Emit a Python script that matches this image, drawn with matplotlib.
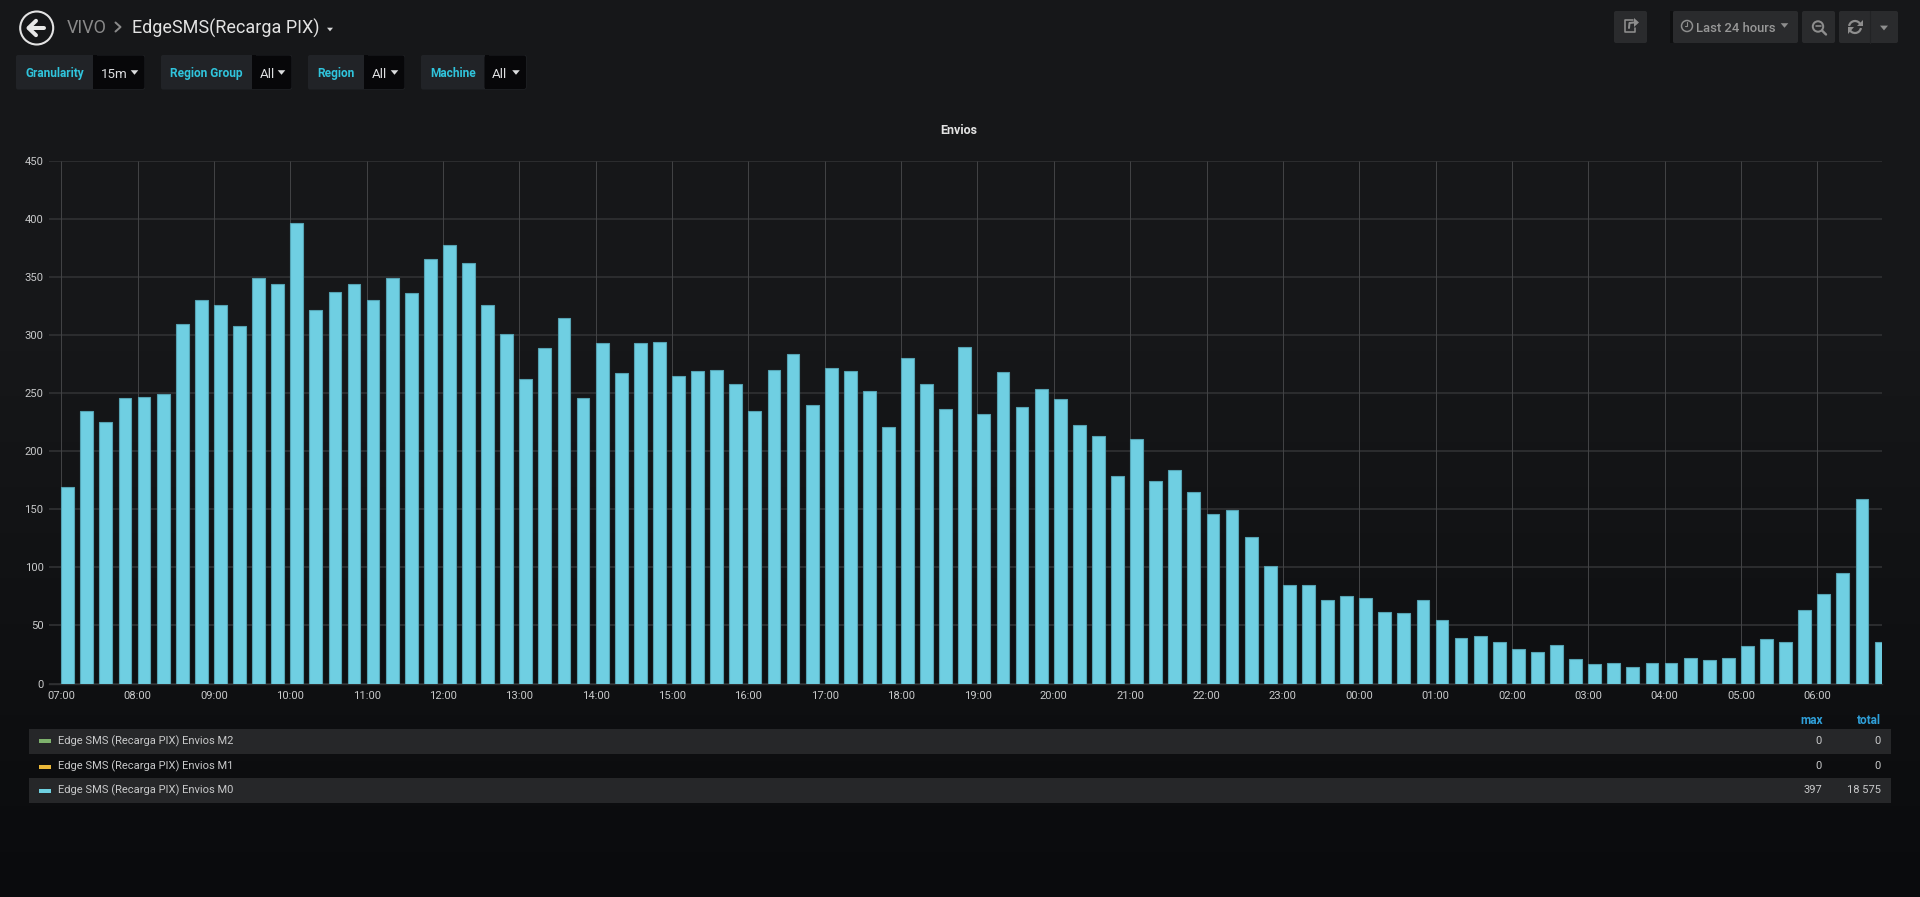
import numpy as np
import matplotlib
matplotlib.use("Agg")
import matplotlib.pyplot as plt
from matplotlib.patches import Circle, FancyBboxPatch, Polygon, Rectangle, Arc

plt.rcParams['font.family'] = ['Roboto', 'DejaVu Sans']

# 15 minute buckets, starting at 07:00
envios_m0 = [169, 235, 225, 246, 247, 249, 310, 330, 326, 308, 349, 344,
             397, 322, 337, 344, 330, 349, 336, 366, 378, 362, 326, 301,
             262, 289, 315, 246, 293, 267, 293, 294, 265, 269, 270, 258,
             235, 270, 284, 240, 272, 269, 252, 221, 280, 258, 236, 290,
             232, 268, 238, 254, 245, 223, 213, 179, 211, 174, 184, 165,
             146, 149, 126, 101, 85, 85, 72, 75, 74, 62, 61, 72,
             55, 39, 41, 36, 30, 27, 33, 21, 17, 18, 14, 18,
             18, 22, 20, 22, 32, 38, 36, 63, 77, 95, 159, 36]
hour_labels = ['07:00', '08:00', '09:00', '10:00', '11:00', '12:00', '13:00', '14:00',
               '15:00', '16:00', '17:00', '18:00', '19:00', '20:00', '21:00', '22:00',
               '23:00', '00:00', '01:00', '02:00', '03:00', '04:00', '05:00', '06:00']
y_ticks = [0, 50, 100, 150, 200, 250, 300, 350, 400, 450]

legend_names = ['Edge SMS (Recarga PIX) Envios M2', 'Edge SMS (Recarga PIX) Envios M1',
                'Edge SMS (Recarga PIX) Envios M0']
legend_colors = ['#7eb26d', '#eab839', '#6ed0e0']
legend_max = ['0', '0', '397']
legend_total = ['0', '0', '18 575']

# (label, value, label left, split, right)
filters = [('Granularity', '15m', 16, 93, 145),
           ('Region Group', 'All', 161, 252, 292),
           ('Region', 'All', 308, 364, 405),
           ('Machine', 'All', 421, 484.5, 526.5)]

W, H = 1920, 897
PX = 0.72  # one pixel in points at dpi 100

fig = plt.figure(figsize=(W / 100, H / 100), dpi=100)

# page layer, in pixel coordinates
page = fig.add_axes([0, 0, 1, 1], zorder=0)
page.set_xlim(0, W)
page.set_ylim(H, 0)
page.axis('off')

shade = np.clip((np.arange(H) - 350) / (H - 350), 0, 1)
top, bottom = np.array([0x16, 0x17, 0x19]), np.array([0x0a, 0x0b, 0x0d])
background = (top[None, :] + (bottom - top)[None, :] * shade[:, None]) / 255
page.imshow(background[:, None, :], extent=[0, W, H, 0], aspect='auto', zorder=0)
page.set_xlim(0, W)
page.set_ylim(H, 0)


def box(x0, y0, x1, y1, color, r=2):
    page.add_patch(FancyBboxPatch((x0 + r, y0 + r), x1 - x0 - 2 * r, y1 - y0 - 2 * r,
                                  boxstyle="round,pad=%d,rounding_size=%d" % (r, r),
                                  fc=color, ec='none', zorder=2))


def caret(x, y, color, size=3.5):
    page.add_patch(Polygon([(x - size, y - size * 0.6), (x + size, y - size * 0.6), (x, y + size * 0.6)],
                           closed=True, fc=color, ec='none', zorder=4))


def line(xs, ys, color, px=1.5):
    page.plot(xs, ys, color=color, lw=px * PX, solid_capstyle='round', zorder=4)


# back button and breadcrumb
page.add_patch(Circle((36.7, 28), 16.5, fc='none', ec='#e3e3e3', lw=1.6 * PX * 1.3, zorder=4))
line([28.5, 43.5], [28, 28], '#e8e8e8', 4)
line([36, 28.5, 36], [20.8, 28, 35.2], '#e8e8e8', 4)
page.text(67, 28, 'VIVO', color='#8a8a8a', fontsize=12.9, va='center', ha='left')
line([115.5, 120.5, 115.5], [22.5, 27, 31.5], '#8a8a8a', 2)
page.text(132, 28, 'EdgeSMS(Recarga PIX)', color='#e3e3e3', fontsize=12.95, va='center', ha='left')
caret(330, 29.5, '#d8d9da', 3)

# template variable pills
for label, value, x0, split, x1 in filters:
    box(x0, 55, x1, 89.5, '#212327')
    box(split, 55.5, x1 - 0.5, 89, '#070709')
    page.add_patch(Rectangle((split, 55.5), 4, 33.5, fc='#070709', ec='none', zorder=3))
    page.text((x0 + split) / 2, 73.5, label, color='#30c4dc', fontsize=8.6, weight='bold',
              va='center', ha='center', zorder=5)
    page.text(split + 7.5, 74, value, color='#dcdddf', fontsize=9.6, va='center', ha='left', zorder=5)
    caret(x1 - 10.5, 72.5, '#dcdddf', 3.8)

# top right toolbar
for x0, x1 in [(1614, 1647), (1673, 1798), (1802, 1835), (1839, 1898)]:
    box(x0, 11, x1, 43, '#2a2b2d')
page.add_patch(Rectangle((1670, 11), 3, 32, fc='#0e0f10', ec='none', zorder=1))
page.plot([1870, 1870], [11, 43], color='#222325', lw=0.8, zorder=3)
icon = '#8e8e8e'
# share
line([1633, 1624.5, 1624.5, 1635, 1635], [20.5, 20.5, 32, 32, 28], icon, 1.6)
line([1629, 1629.5, 1634], [28, 23, 22.5], icon, 2)
page.add_patch(Polygon([(1634, 18), (1639, 22.5), (1634, 27)], closed=True, fc=icon, ec='none', zorder=4))
# clock
page.add_patch(Circle((1687, 26), 5.5, fc='none', ec=icon, lw=1.5 * PX, zorder=4))
line([1687, 1687, 1684.5], [22.5, 26.5, 26.5], icon, 1.1)
page.text(1696.5, 28, 'Last 24 hours', color='#989898', fontsize=9.4, weight='medium', va='center', ha='left', zorder=5)
caret(1784.5, 25.5, icon, 3.8)
# zoom out
page.add_patch(Circle((1818, 26.5), 5.2, fc='none', ec=icon, lw=2 * PX, zorder=4))
line([1815.5, 1820.5], [26.5, 26.5], icon, 1.6)
line([1822, 1826], [30.5, 34.5], icon, 2.4)
# refresh
page.add_patch(Arc((1855, 27), 12, 12, theta1=190, theta2=340, ec=icon, lw=2.2 * PX, zorder=4))
page.add_patch(Arc((1855, 27), 12, 12, theta1=10, theta2=160, ec=icon, lw=2.2 * PX, zorder=4))
page.add_patch(Polygon([(1862.5, 20), (1862.5, 26.5), (1856.5, 26.5)], closed=True, fc=icon, ec='none', zorder=4))
page.add_patch(Polygon([(1847.5, 34), (1847.5, 27.5), (1853.5, 27.5)], closed=True, fc=icon, ec='none', zorder=4))
caret(1884, 28, icon, 4)

page.text(959, 130, 'Envios', color='#e3e3e3', fontsize=9, weight='bold', va='center', ha='center', zorder=5)

# legend table
page.text(1822.5, 720, 'max', color='#2f9fd8', fontsize=8.6, weight='bold', va='center', ha='right', zorder=5)
page.text(1881, 720, 'total', color='#2f9fd8', fontsize=8.6, weight='bold', va='center', ha='right', zorder=5)
row_tops = [729, 754, 778]
row_text = [741, 766, 790]
row_mark = [741.5, 767, 791]
for i in range(3):
    if i != 1:
        page.add_patch(Rectangle((29, row_tops[i]), 1862, 25, fc='#262729', ec='none', zorder=2))
    page.add_patch(Rectangle((39, row_mark[i] - 2), 12, 4, fc=legend_colors[i], ec='none', zorder=3))
    page.text(58, row_text[i], legend_names[i], color='#c8c9ca', fontsize=8.0, va='center', ha='left', zorder=5)
    page.text(1822, row_text[i], legend_max[i], color='#c8c9ca', fontsize=8.0, va='center', ha='right', zorder=5)
    page.text(1881, row_text[i], legend_total[i], color='#c8c9ca', fontsize=8.0, va='center', ha='right', zorder=5)

# the chart itself
plot_left, plot_right, plot_top, plot_bottom = 49, 1882, 161, 683.5
slot = 76.35 / 4  # pixels per bucket

ax = fig.add_axes([plot_left / W, 1 - plot_bottom / H, (plot_right - plot_left) / W, (plot_bottom - plot_top) / H],
                  zorder=1)
ax.patch.set_alpha(0)
x = np.arange(len(envios_m0))
ax.bar(x, envios_m0, width=12.8 / slot, align='edge', color='#6fcfe2', edgecolor='#55a3b3',
       linewidth=0.8, zorder=3)
ax.set_xlim(-(61.3 - plot_left) / slot, (plot_right - 61.3) / slot)
ax.set_ylim(0, 450)
ax.set_yticks(y_ticks)
ax.set_xticks(x[::4])
ax.set_xticklabels(hour_labels)
ax.grid(axis='y', color='#2c2d2f', lw=1.4, zorder=1)
ax.set_axisbelow(True)
ax.vlines(x[::4], 0, 450, color='#434446', lw=0.7, zorder=2)
for name in ['top', 'left', 'right']:
    ax.spines[name].set_visible(False)
ax.spines['bottom'].set_color('#2f3032')
ax.spines['bottom'].set_linewidth(1.0)
ax.tick_params(axis='both', length=0, labelcolor='#c8c9ca', labelsize=8.1)
ax.tick_params(axis='x', pad=5.5)
ax.tick_params(axis='y', pad=4)

fig.savefig('out.png', dpi=100)
